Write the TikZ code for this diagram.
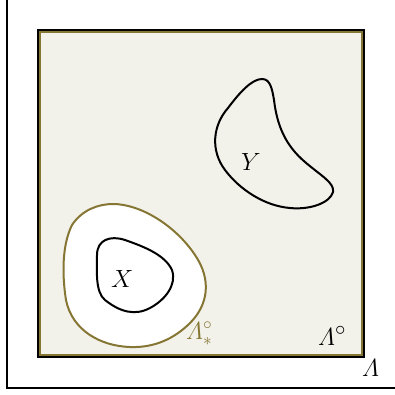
\documentclass[tikz,border=0pt]{standalone}
\usepackage{amsmath}
\definecolor{bgbeige}{RGB}{242,241,234}
\definecolor{olivec}{RGB}{134,118,52}
\begin{document}
\begin{tikzpicture}[x=1pt,y=-1pt,
  blob/.style={line width=2pt, line join=round},
  lab/.style={inner sep=0pt, anchor=base west, font=\fontsize{31}{31}\selectfont},
  slab/.style={inner sep=0pt, anchor=base west, font=\fontsize{24}{24}\selectfont, text=olivec}]
\useasboundingbox (0,0) rectangle (395,394);
% outer frame
\draw[line width=2pt] (7,0) -- (7,387.5) -- (395,387.5);
% Lambda circ square
\fill[bgbeige] (38,30) rectangle (364,357);
\draw[olivec, line width=2.4pt] (40.2,32.2) rectangle (361.8,354.8);
\draw[line width=2.2pt] (38,30) rectangle (364,357);
% Lambda_* circ region
\draw[olivec, blob, fill=white] (113,204) .. controls (140,204) and (175,225) .. (195,255)
  .. controls (212,280) and (208,305) .. (190,323)
  .. controls (175,338) and (155,348) .. (130,347)
  .. controls (100,346) and (72,330) .. (66,300)
  .. controls (62,275) and (62,245) .. (72,225)
  .. controls (82,210) and (98,204) .. (113,204) -- cycle;
% X
\draw[blob, fill=white] (97,255) .. controls (97,240) and (110,235) .. (125,240)
  .. controls (145,247) and (165,255) .. (172,270)
  .. controls (177,285) and (165,300) .. (150,308)
  .. controls (135,316) and (120,312) .. (105,300)
  .. controls (95,292) and (97,270) .. (97,255) -- cycle;
% Y
\draw[blob] (262,79) .. controls (270,79) and (272,88) .. (274,100)
  .. controls (277,125) and (285,145) .. (305,162)
  .. controls (320,175) and (335,183) .. (333,192)
  .. controls (330,203) and (310,210) .. (290,208)
  .. controls (265,206) and (240,190) .. (225,170)
  .. controls (210,150) and (213,125) .. (228,108)
  .. controls (240,92) and (252,79) .. (262,79) -- cycle;
% labels
\node[lab] (xl) at (111,287) {$X$};
\node[lab] (yl) at (241,170) {$Y$};
\node[lab] (lc) at (318,345) {$\varLambda^{\circ}$};
\node[lab] (ll) at (362,376) {$\varLambda$};
\node[slab] (ls) at (186,339) {$\varLambda^{\circ}_{*}$};
\end{tikzpicture}
\end{document}
